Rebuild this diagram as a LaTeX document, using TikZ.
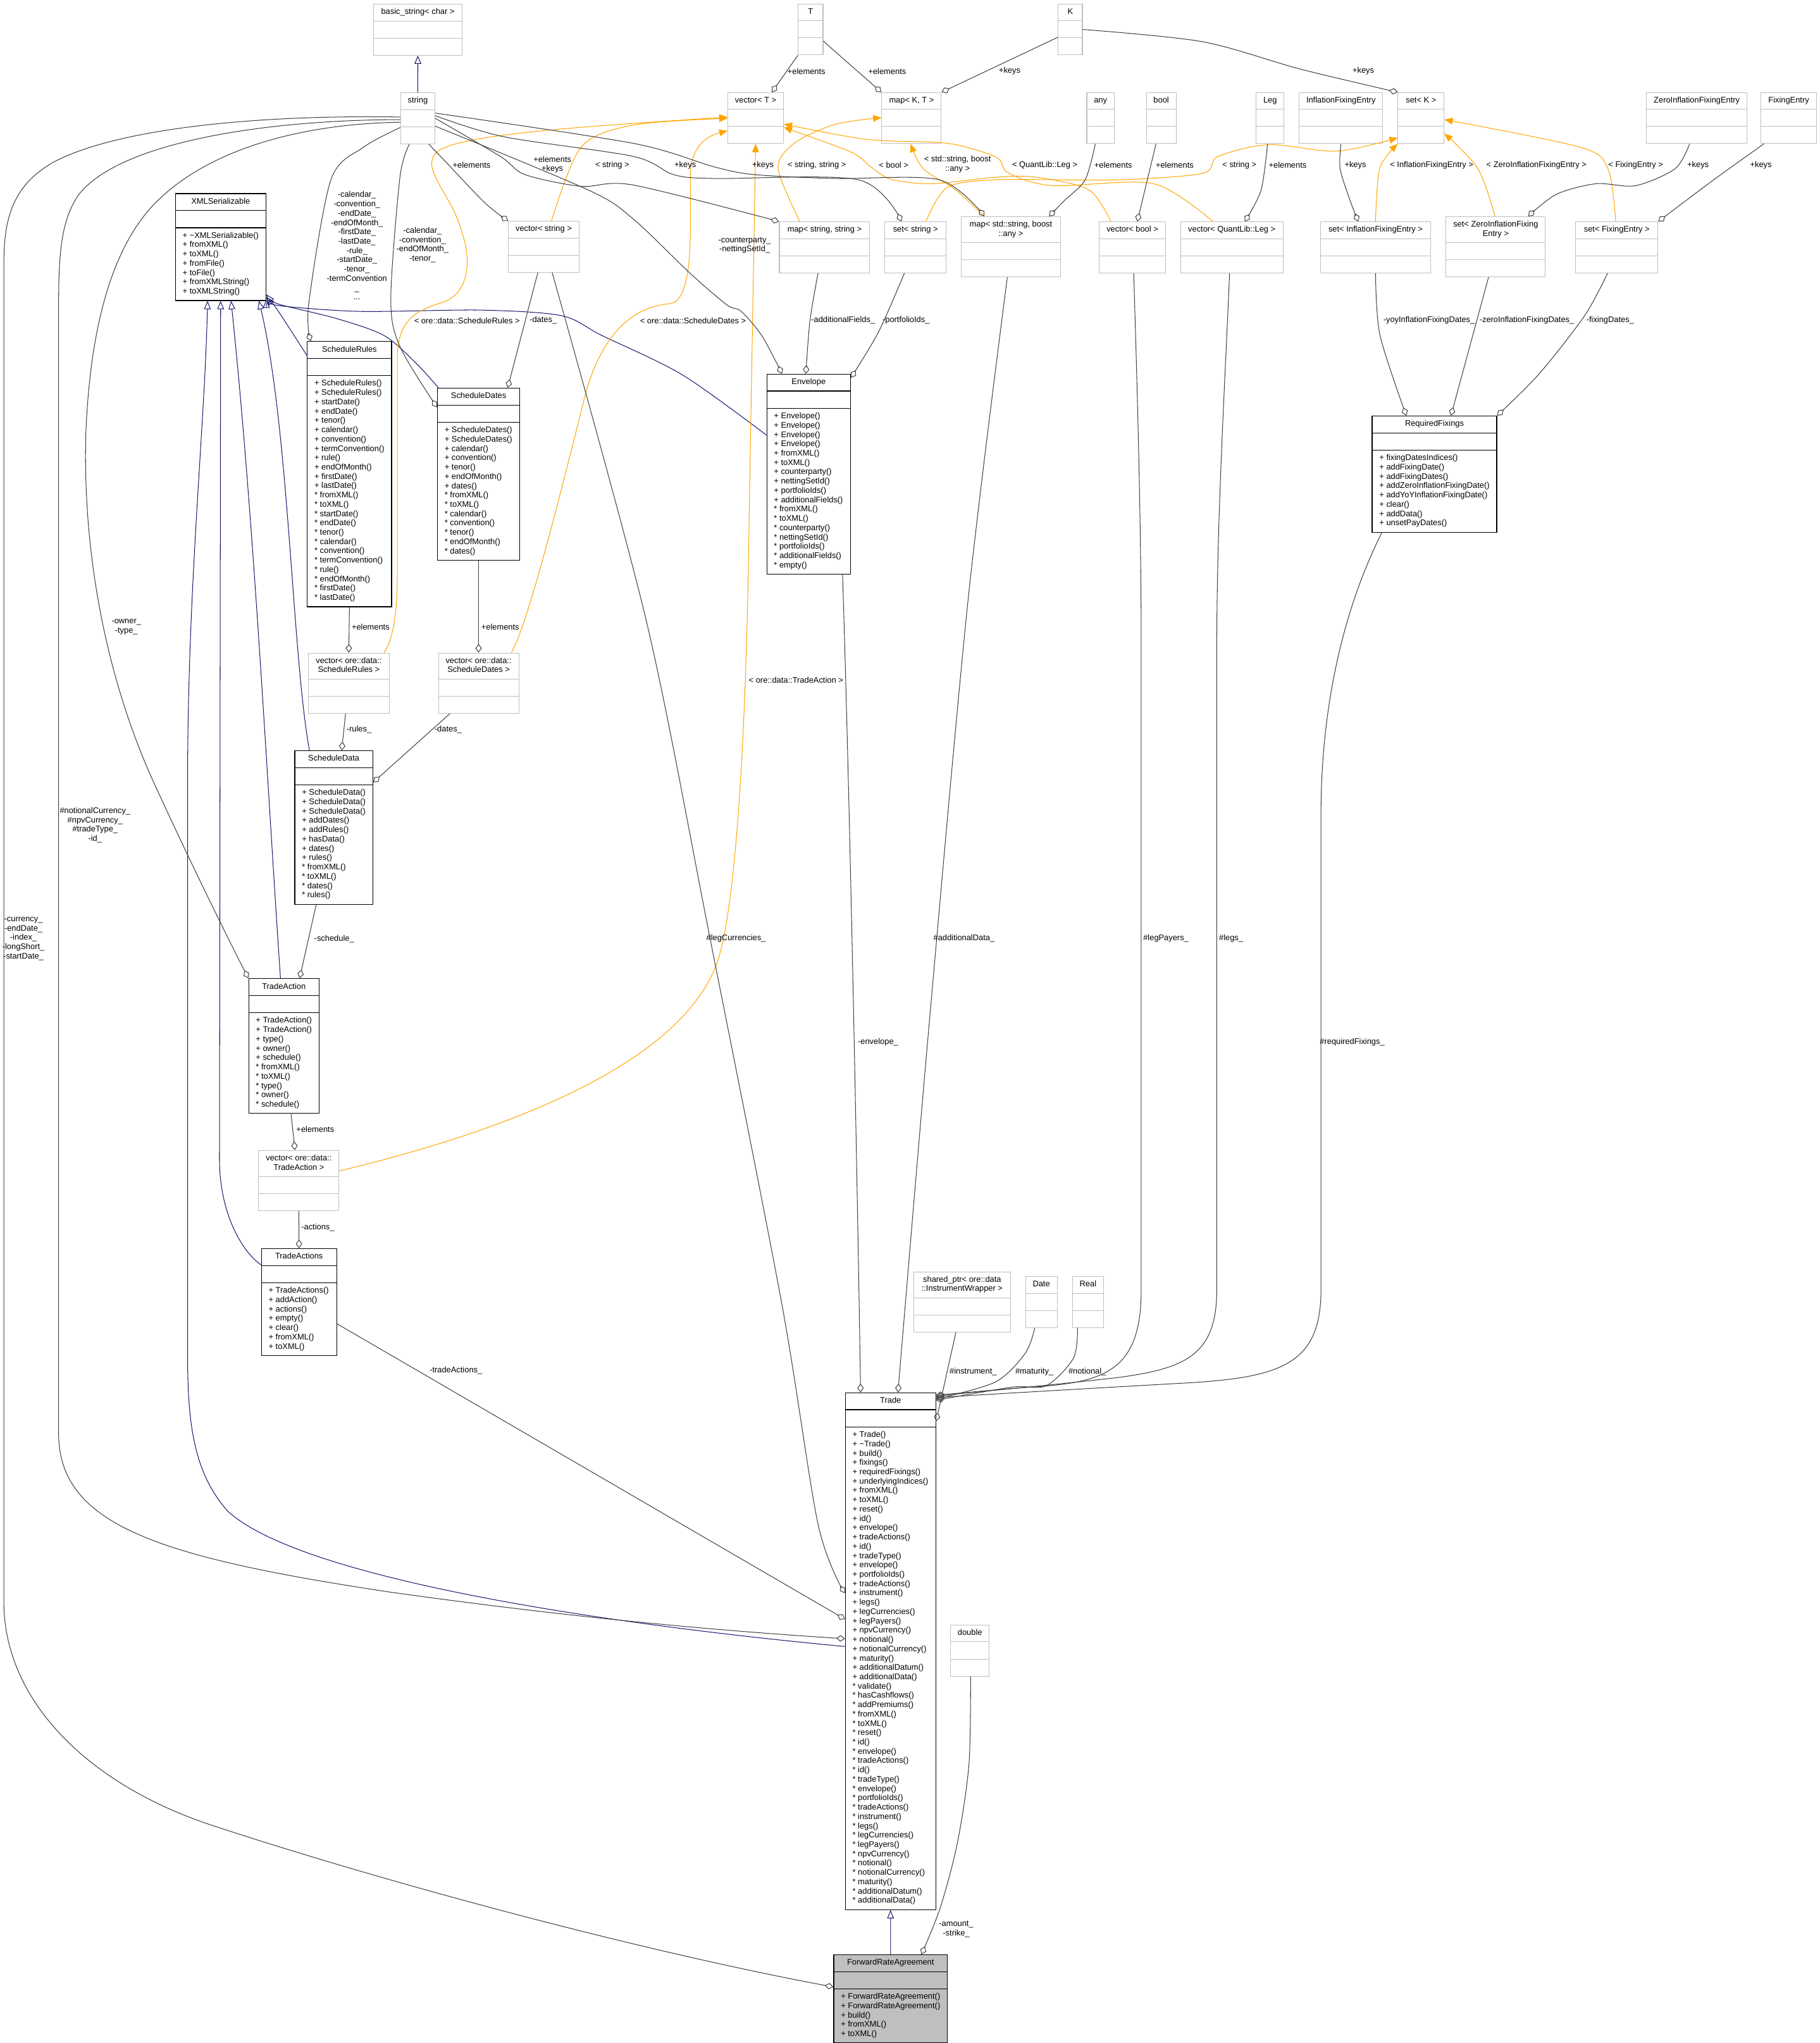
\documentclass[tikz,border=0pt]{standalone}
\usepackage{fontspec}
\setmainfont{Liberation Sans}
\usetikzlibrary{shapes.multipart,arrows.meta}

\definecolor{aggc}{HTML}{404040}
\definecolor{inhc}{HTML}{191970}
\definecolor{tplc}{HTML}{FFA500}
\definecolor{tmplgray}{HTML}{BFBFBF}

\newcommand\dxfont{\fontsize{6.25}{7.15}\selectfont}
\newcommand\mlist[1]{\begin{tabular}{@{}l@{}}#1\end{tabular}}
\newcommand\tlist[1]{\begin{tabular}{@{}c@{}}#1\end{tabular}}

\tikzset{
  cls/.style={rectangle split, rectangle split parts=3, draw=black, fill=white,
    line width=0.6pt, anchor=north west, font=\dxfont, inner xsep=5.5pt, inner ysep=2.6pt,
    rectangle split part align={center,left,left},
    rectangle split empty part height=5pt, rectangle split empty part depth=2.15pt,
    rectangle split empty part width=0pt},
  tmpl/.style={cls, draw=tmplgray, line width=0.5pt},
  lbl/.style={font=\dxfont, inner sep=0pt, align=center},
  agg/.style={draw=aggc, line width=0.5pt, -{Diamond[open, length=6.7pt, width=4.9pt]}},
  inh/.style={draw=inhc, line width=0.5pt, -{Triangle[open, length=6.4pt, width=5.2pt]}},
  tpl/.style={draw=tplc, line width=0.5pt, -{Triangle[length=6.4pt, width=5.2pt]}},
}

\begin{document}
\begin{tikzpicture}[x=1pt, y=-1pt]
    \useasboundingbox (0,0) rectangle (1397,1568);

    % Template and library types
    \node[tmpl, minimum width=68.4pt] (basic) at (286.3,3) {\strut basic\_string< char >\nodepart{two}\nodepart{three}};
    \node[tmpl, minimum width=26.3pt] (str) at (307.3,71) {\strut string\nodepart{two}\nodepart{three}};
    \node[tmpl, minimum width=19pt] (tT) at (612.5,2.8) {\strut T\nodepart{two}\nodepart{three}};
    \node[tmpl, minimum width=18.6pt] (kK) at (812,2.8) {\strut K\nodepart{two}\nodepart{three}};
    \node[tmpl, minimum width=42.5pt] (vecT) at (558.5,70.8) {\strut vector< T >\nodepart{two}\nodepart{three}};
    \node[tmpl, minimum width=45.7pt] (mapKT) at (676.6,70.8) {\strut map< K, T >\nodepart{two}\nodepart{three}};
    \node[tmpl, minimum width=20.7pt] (anyT) at (834,70.8) {\strut any\nodepart{two}\nodepart{three}};
    \node[tmpl, minimum width=22.8pt] (boolT) at (879.7,70.8) {\strut bool\nodepart{two}\nodepart{three}};
    \node[tmpl, minimum width=21pt] (legT) at (964,70.8) {\strut Leg\nodepart{two}\nodepart{three}};
    \node[tmpl, minimum width=64pt] (ifeT) at (997,70.8) {\strut InflationFixingEntry\nodepart{two}\nodepart{three}};
    \node[tmpl, minimum width=35.3pt] (setK) at (1072.9,70.8) {\strut set< K >\nodepart{two}\nodepart{three}};
    \node[tmpl, minimum width=76.1pt] (zifeT) at (1263.7,70.8) {\strut ZeroInflationFixingEntry\nodepart{two}\nodepart{three}};
    \node[tmpl, minimum width=42.4pt] (feT) at (1351.6,70.8) {\strut FixingEntry\nodepart{two}\nodepart{three}};

    \node[tmpl, minimum width=54.2pt] (vecStr) at (390,169.6) {\strut vector< string >\nodepart{two}\nodepart{three}};
    \node[tmpl, minimum width=69.4pt] (mapSS) at (598,170) {\strut map< string, string >\nodepart{two}\nodepart{three}};
    \node[tmpl, minimum width=47pt] (setStr) at (679,170) {\strut set< string >\nodepart{two}\nodepart{three}};
    \node[tmpl, minimum width=76.2pt] (mapAny) at (737.6,166) {\tlist{map< std::string, boost\\::any >}\nodepart{two}\nodepart{three}};
    \node[tmpl, minimum width=50.3pt] (vecBool) at (843.7,170) {\strut vector< bool >\nodepart{two}\nodepart{three}};
    \node[tmpl, minimum width=78.6pt] (vecLeg) at (906,170) {\strut vector< QuantLib::Leg >\nodepart{two}\nodepart{three}};
    \node[tmpl, minimum width=84.7pt] (setIFE) at (1013.3,170) {\strut set< InflationFixingEntry >\nodepart{two}\nodepart{three}};
    \node[tmpl, minimum width=75.5pt] (setZIFE) at (1109.8,166) {\tlist{set< ZeroInflationFixing\\Entry >}\nodepart{two}\nodepart{three}};
    \node[tmpl, minimum width=63.2pt] (setFE) at (1209.2,170) {\strut set< FixingEntry >\nodepart{two}\nodepart{three}};

    \node[tmpl, minimum width=61.8pt] (vecSR) at (236.6,500.9) {\tlist{vector< ore::data::\\ScheduleRules >}\nodepart{two}\nodepart{three}};
    \node[tmpl, minimum width=61.7pt] (vecSD) at (336.3,500.9) {\tlist{vector< ore::data::\\ScheduleDates >}\nodepart{two}\nodepart{three}};
    \node[tmpl, minimum width=61.7pt] (vecTA) at (198.3,882.7) {\tlist{vector< ore::data::\\TradeAction >}\nodepart{two}\nodepart{three}};
    \node[tmpl, minimum width=74pt] (shPtr) at (701.3,975.8) {\tlist{shared\_ptr< ore::data\\::InstrumentWrapper >}\nodepart{two}\nodepart{three}};
    \node[tmpl, minimum width=24.2pt] (dateT) at (787,979.5) {\strut Date\nodepart{two}\nodepart{three}};
    \node[tmpl, minimum width=23.5pt] (realT) at (823,979.5) {\strut Real\nodepart{two}\nodepart{three}};
    \node[tmpl, minimum width=29.5pt] (dbl) at (729.4,1247) {\strut double\nodepart{two}\nodepart{three}};

    % Classes
    \node[cls, minimum width=69.1pt] (xmls) at (134.4,148.3) {\strut XMLSerializable\nodepart{two}\nodepart{three}
        \mlist{+ \textasciitilde XMLSerializable()\\+ fromXML()\\+ toXML()\\+ fromFile()\\+ toFile()\\+ fromXMLString()\\+ toXMLString()}};
    \node[cls, minimum width=63.3pt] (schedRules) at (235.6,261.8) {\strut ScheduleRules\nodepart{two}\nodepart{three}
        \mlist{+ ScheduleRules()\\+ ScheduleRules()\\+ startDate()\\+ endDate()\\+ tenor()\\+ calendar()\\+ convention()\\+ termConvention()\\+ rule()\\+ endOfMonth()\\+ firstDate()\\+ lastDate()\\{*} fromXML()\\{*} toXML()\\{*} startDate()\\{*} endDate()\\{*} tenor()\\{*} calendar()\\{*} convention()\\{*} termConvention()\\{*} rule()\\{*} endOfMonth()\\{*} firstDate()\\{*} lastDate()}};
    \node[cls, minimum width=63.2pt] (schedDates) at (335.5,297.6) {\strut ScheduleDates\nodepart{two}\nodepart{three}
        \mlist{+ ScheduleDates()\\+ ScheduleDates()\\+ calendar()\\+ convention()\\+ tenor()\\+ endOfMonth()\\+ dates()\\{*} fromXML()\\{*} toXML()\\{*} calendar()\\{*} convention()\\{*} tenor()\\{*} endOfMonth()\\{*} dates()}};
    \node[cls, minimum width=64.3pt] (envelope) at (588.3,286.9) {\strut Envelope\nodepart{two}\nodepart{three}
        \mlist{+ Envelope()\\+ Envelope()\\+ Envelope()\\+ Envelope()\\+ fromXML()\\+ toXML()\\+ counterparty()\\+ nettingSetId()\\+ portfolioIds()\\+ additionalFields()\\{*} fromXML()\\{*} toXML()\\{*} counterparty()\\{*} nettingSetId()\\{*} portfolioIds()\\{*} additionalFields()\\{*} empty()}};
    \node[cls, minimum width=94.6pt] (reqFix) at (1053,319) {\strut RequiredFixings\nodepart{two}\nodepart{three}
        \mlist{+ fixingDatesIndices()\\+ addFixingDate()\\+ addFixingDates()\\+ addZeroInflationFixingDate()\\+ addYoYInflationFixingDate()\\+ clear()\\+ addData()\\+ unsetPayDates()}};
    \node[cls, minimum width=59.8pt] (schedData) at (226,575.9) {\strut ScheduleData\nodepart{two}\nodepart{three}
        \mlist{+ ScheduleData()\\+ ScheduleData()\\+ ScheduleData()\\+ addDates()\\+ addRules()\\+ hasData()\\+ dates()\\+ rules()\\{*} fromXML()\\{*} toXML()\\{*} dates()\\{*} rules()}};
    \node[cls, minimum width=53.9pt] (tradeAction) at (190.6,750.8) {\strut TradeAction\nodepart{two}\nodepart{three}
        \mlist{+ TradeAction()\\+ TradeAction()\\+ type()\\+ owner()\\+ schedule()\\{*} fromXML()\\{*} toXML()\\{*} type()\\{*} owner()\\{*} schedule()}};
    \node[cls, minimum width=57.7pt] (tradeActions) at (200.4,958) {\strut TradeActions\nodepart{two}\nodepart{three}
        \mlist{+ TradeActions()\\+ addAction()\\+ actions()\\+ empty()\\+ clear()\\+ fromXML()\\+ toXML()}};
    \node[cls, minimum width=69.4pt] (trade) at (648.6,1068.7) {\strut Trade\nodepart{two}\nodepart{three}
        \mlist{+ Trade()\\+ \textasciitilde Trade()\\+ build()\\+ fixings()\\+ requiredFixings()\\+ underlyingIndices()\\+ fromXML()\\+ toXML()\\+ reset()\\+ id()\\+ envelope()\\+ tradeActions()\\+ id()\\+ tradeType()\\+ envelope()\\+ portfolioIds()\\+ tradeActions()\\+ instrument()\\+ legs()\\+ legCurrencies()\\+ legPayers()\\+ npvCurrency()\\+ notional()\\+ notionalCurrency()\\+ maturity()\\+ additionalDatum()\\+ additionalData()\\{*} validate()\\{*} hasCashflows()\\{*} addPremiums()\\{*} fromXML()\\{*} toXML()\\{*} reset()\\{*} id()\\{*} envelope()\\{*} tradeActions()\\{*} id()\\{*} tradeType()\\{*} envelope()\\{*} portfolioIds()\\{*} tradeActions()\\{*} instrument()\\{*} legs()\\{*} legCurrencies()\\{*} legPayers()\\{*} npvCurrency()\\{*} notional()\\{*} notionalCurrency()\\{*} maturity()\\{*} additionalDatum()\\{*} additionalData()}};
    \node[cls, fill=tmplgray, minimum width=86.8pt] (fra) at (639.7,1500) {\strut ForwardRateAgreement\nodepart{two}\nodepart{three}
        \mlist{+ ForwardRateAgreement()\\+ ForwardRateAgreement()\\+ build()\\+ fromXML()\\+ toXML()}};

    % Inheritance
    \draw[inh] (str.north) -- (basic.south);
    \draw[inh] (fra.north) -- (trade.south);
    \draw[inh] plot[smooth] coordinates {([yshift=-11pt]schedRules.north west) (214.4,240) ([yshift=5pt]xmls.south east)};
    \draw[inh] plot[smooth] coordinates {([xshift=1pt]schedDates.north west) (319.6,279) (294.8,257.5) (257.7,244.3) (214.4,233.6) ([yshift=3pt]xmls.south east)};
    \draw[inh] plot[smooth] coordinates {([yshift=-47pt]envelope.north west) (524,287.8) (462,257.5) (431,242.3) (369,238) (276.3,239) (214.4,234.6) ([yshift=1pt]xmls.south east)};
    \draw[inh] ([xshift=11.5pt]schedData.north west) .. controls (224,500) and (222,330) .. ([xshift=-5.5pt]xmls.south east);
    \draw[inh] ([xshift=24.7pt]tradeAction.north west) .. controls (205,600) and (195,400) .. ([xshift=-27pt]xmls.south east);
    \draw[inh] ([yshift=-12.8pt]tradeActions.north west) .. controls (185,960) and (168.5,930) .. (168.5,890)
        -- ([xshift=-35pt]xmls.south east);
    \draw[inh] ([yshift=-195pt]trade.north west) .. controls (450,1245) and (230,1210) .. (175,1160)
        .. controls (148,1130) and (144,1090) .. (144,1040) -- (144,600)
        .. controls (144,450) and (157,330) .. ([xshift=-45pt]xmls.south east);

    % Template instances
    \draw[tpl] plot[smooth] coordinates {([xshift=6pt]vecStr.north) (446,113) (486,96) ([yshift=-20pt]vecT.north west)};
    \draw[tpl] ([xshift=-4pt]vecSR.north east) .. controls (302,490) and (305,470) .. (305,440) -- (305,275)
        .. controls (305,245) and (320,238) .. (340,232) .. controls (360,225) and (362,200) .. (355,180)
        .. controls (348,150) and (322,130) .. (335,117) .. controls (350,102) and (470,96) .. ([yshift=-19pt]vecT.north west);
    \draw[tpl] ([xshift=-6pt]vecSD.north east) .. controls (405,480) and (430,380) .. (450,300)
        .. controls (465,250) and (490,235) .. (515,233) .. controls (528,230) and (530,200) .. (530,170)
        -- (530,135) .. controls (530,115) and (540,105) .. ([yshift=-29.6pt]vecT.north west);
    \draw[tpl] ([yshift=-16pt]vecTA.north east) .. controls (380,870) and (520,820) .. (550,740)
        .. controls (565,700) and (573,560) .. (575,400) -- (vecT.south);
    \draw[tpl] plot[smooth] coordinates {([xshift=9pt]vecBool.north west) (835.8,145.7) (795.5,136) (764.6,136) (715,141) (684,137.6) (668.4,128) (653,116.6) ([yshift=-27pt]vecT.north east)};
    \draw[tpl] plot[smooth] coordinates {([xshift=25pt]vecLeg.north west) (885.4,141) (808,142.5) (774,132.8) (764.6,120.6) (727.4,110) (665.5,107) ([yshift=-24.5pt]vecT.north east)};
    \draw[tpl] plot[smooth] coordinates {([xshift=16pt]mapSS.north west) (597.3,129.5) (609.6,110) (640.7,95.5) ([yshift=-19.5pt]mapKT.north west)};
    \draw[tpl] plot[smooth] coordinates {([xshift=-20.5pt]mapAny.north) (733.5,145.7) (708.7,129.5) ([xshift=-0.7pt]mapKT.south)};
    \draw[tpl] plot[smooth] coordinates {([xshift=8pt]setStr.north) (727,144) (765,138) (858,138) (923,133) (935,120) (974,111) (1026,116) ([yshift=-35pt]setK.north west)};
    \draw[tpl] plot[smooth] coordinates {(setIFE.north) (1059,129.5) (setK.south west)};
    \draw[tpl] plot[smooth] coordinates {([xshift=-0.5pt]setZIFE.north) (1134.5,129.5) ([yshift=8pt]setK.south east)};
    \draw[tpl] plot[smooth] coordinates {([xshift=-0.8pt]setFE.north) (1234.3,129.5) (1213,113) ([yshift=-21pt]setK.north east)};

    % Members
    \draw[agg] (tT.south west) -- ([xshift=34pt]vecT.north west);
    \draw[agg] ([yshift=-9pt]tT.east) -- (mapKT.north west);
    \draw[agg] ([yshift=-6pt]kK.west) -- (mapKT.north east);
    \draw[agg] plot[smooth] coordinates {(kK.east) (923,32) (998,53) (setK.north west)};
    \draw[agg] plot[smooth] coordinates {([xshift=-5pt]str.south east) (341,123) (372,155.5) (vecStr.north west)};
    \draw[agg] plot[smooth] coordinates {(str.east) (384,120) (403,134) (446,143) (486,142) (mapSS.north west)};
    \draw[agg] plot[smooth] coordinates {([yshift=2pt]str.east) (387,105) (486,120) (517,134) (548,137) (659,138) ([xshift=13pt]setStr.north west)};
    \draw[agg] plot[smooth] coordinates {([yshift=4pt]str.east) (486,110) (548,128) (579,134) (641,137) (721,138) ([xshift=18pt]mapAny.north west)};
    \draw[agg] plot[smooth] coordinates {([yshift=-6pt]str.east) (452,146) (486,168) (530,210) (558,234) (569,239) (585,258) ([xshift=12pt]envelope.north west)};
    \draw[agg] plot[smooth] coordinates {([xshift=-4pt]anyT.south) (833,138) (817,154) ([xshift=-9pt]mapAny.north east)};
    \draw[agg] ([xshift=-4pt]boolT.south) -- ([xshift=29.3pt]vecBool.north west);
    \draw[agg] plot[smooth] coordinates {([xshift=-2pt]legT.south) (968,146) ([xshift=49.5pt]vecLeg.north west)};
    \draw[agg] plot[smooth] coordinates {(ifeT.south) (1028.7,129.5) (1036.3,153.8) ([xshift=29.3pt]setIFE.north west)};
    \draw[agg] plot[smooth] coordinates {([xshift=33.3pt]zifeT.south west) (1285.8,129.5) (1255.5,142.5) (1225.2,141) (1195,149) ([xshift=63.2pt]setZIFE.north west)};
    \draw[agg] plot[smooth] coordinates {([xshift=2.4pt]feT.south west) (1316,137.6) (setFE.north east)};

    \draw[agg] plot[smooth] coordinates {([yshift=-7pt]str.west) (279,113) (254,138) (237,233) ([xshift=3pt]schedRules.north west)};
    \draw[agg] plot[smooth] coordinates {([xshift=7pt]str.south west) (307,136) (300,229) (307,266) ([yshift=-15pt]schedDates.north west)};
    \draw[agg] ([yshift=-3pt]str.west) .. controls (230,95) and (160,115) .. (120,155)
        .. controls (90,185) and (70,240) .. (66,330) .. controls (63,420) and (80,520) .. (121,607)
        .. controls (150,670) and (175,720) .. (tradeAction.north west);
    \draw[agg] ([yshift=-1pt]str.west) .. controls (200,92) and (90,110) .. (60,150)
        .. controls (48,168) and (45,190) .. (45,233) -- (45,1100)
        .. controls (45,1170) and (120,1195) .. (300,1222)
        .. controls (450,1243) and (560,1252) .. ([yshift=-189pt]trade.north west);
    \draw[agg] ([yshift=1pt]str.west) .. controls (200,88) and (90,98) .. (40,125)
        .. controls (15,140) and (3,160) .. (3,200) -- (3,1230)
        .. controls (3,1300) and (60,1365) .. (157,1399)
        .. controls (280,1440) and (480,1495) .. ([yshift=-25pt]fra.north west);

    \draw[agg] ([xshift=-4.5pt]vecStr.south) -- ([xshift=54.2pt]schedDates.north west);
    \draw[agg] plot[smooth] coordinates {([xshift=6.5pt]vecStr.south) (496,476) (545,720) (600,1000) (628,1170) ([yshift=-154pt]trade.north west)};
    \draw[agg] plot[smooth] coordinates {([xshift=-5pt]mapSS.south) (621.7,246.4) ([xshift=30.3pt]envelope.north west)};
    \draw[agg] plot[smooth] coordinates {([xshift=-8.5pt]setStr.south) (674.5,254.5) ([yshift=-3pt]envelope.north east)};
    \draw[agg] ([xshift=26pt]envelope.south) .. controls (652,600) and (658,900) .. ([xshift=12pt]trade.north west);
    \draw[agg] plot[smooth] coordinates {([xshift=-2.7pt]mapAny.south) (743,461.5) (712,800) ([xshift=40.7pt]trade.north west)};
    \draw[agg] ([xshift=1pt]vecBool.south) .. controls (873,300) and (876,400) .. (876,500) -- (876,990)
        .. controls (876,1050) and (850,1060) .. (800,1064) .. controls (770,1066) and (740,1069) .. ([yshift=-2pt]trade.north east);
    \draw[agg] ([xshift=-1.7pt]vecLeg.south) .. controls (940,300) and (934,400) .. (934,500) -- (934,990)
        .. controls (934,1040) and (910,1050) .. (860,1057) .. controls (800,1064) and (750,1068) .. ([yshift=-3pt]trade.north east);
    \draw[agg] ([xshift=7.7pt]reqFix.south west) .. controls (1040,450) and (1015,520) .. (1014,620) -- (1014,990)
        .. controls (1014,1050) and (980,1058) .. (900,1062) .. controls (830,1066) and (760,1070) .. ([yshift=-4pt]trade.north east);
    \draw[agg] plot[smooth] coordinates {([xshift=-5pt]dateT.south) (787,1038.6) (764,1060.7) ([yshift=-5pt]trade.north east)};
    \draw[agg] plot[smooth] coordinates {([xshift=-8pt]realT.south) (824,1042.4) (803,1063.6) (777,1064.6) ([yshift=-6pt]trade.north east)};
    \draw[agg] ([xshift=-4.8pt]shPtr.south) -- ([yshift=-22pt]trade.north east);

    \draw[agg] plot[smooth] coordinates {(setIFE.south) (1059.3,257.3) ([xshift=26.5pt]reqFix.north west)};
    \draw[agg] ([xshift=-5.5pt]setZIFE.south) -- ([xshift=60.8pt]reqFix.north west);
    \draw[agg] plot[smooth] coordinates {([xshift=-7pt]setFE.south) (1216.3,242.4) (1181.4,287) (reqFix.north east)};

    \draw[agg] (schedRules.south) -- (vecSR.north);
    \draw[agg] (schedDates.south) -- (vecSD.north);
    \draw[agg] ([xshift=-2.5pt]vecSR.south) -- ([xshift=36.3pt]schedData.north west);
    \draw[agg] ([xshift=-22pt]vecSD.south) -- ([yshift=-24.6pt]schedData.north east);
    \draw[agg] ([xshift=-13.5pt]schedData.south) -- ([xshift=39.4pt]tradeAction.north west);
    \draw[agg] ([xshift=5.5pt]tradeAction.south) -- ([xshift=-3pt]vecTA.north);
    \draw[agg] (vecTA.south) -- (tradeActions.north);
    \draw[agg] ([yshift=-58pt]tradeActions.north east) -- ([yshift=-174pt]trade.north west);
    \draw[agg] plot[smooth] coordinates {([xshift=0.5pt]dbl.south) (743.8,1353.8) (735,1414) (721.7,1464.3) ([xshift=67.6pt]fra.north west)};

    % Labels
    \node[lbl] (l1) at (619,54.7) {+elements};
    \node[lbl] (l2) at (681,54.7) {+elements};
    \node[lbl] (l3) at (775,54.7) {+keys};
    \node[lbl] (l4) at (1046.5,54.7) {+keys};
    \node[lbl] (l5) at (362,126.5) {+elements};
    \node[lbl] (l6) at (424,126.4) {+elements\\+keys};
    \node[lbl] (l7) at (470,126.8) {< string >};
    \node[lbl] (l8) at (526,126.8) {+keys};
    \node[lbl] (l9) at (585.6,126.8) {+keys};
    \node[lbl] (l10) at (627,126.8) {< string, string >};
    \node[lbl] (l11) at (686,126.8) {< bool >};
    \node[lbl] (l12) at (735,126.2) {< std::string, boost\\::any >};
    \node[lbl] (l13) at (802,126.8) {< QuantLib::Leg >};
    \node[lbl] (l14) at (854.5,126.8) {+elements};
    \node[lbl] (l15) at (901.7,126.8) {+elements};
    \node[lbl] (l16) at (951.4,126.8) {< string >};
    \node[lbl] (l17) at (988.4,126.8) {+elements};
    \node[lbl] (l18) at (1040.4,126.8) {+keys};
    \node[lbl] (l19) at (1099,126.8) {< InflationFixingEntry >};
    \node[lbl] (l20) at (1179.4,126.8) {< ZeroInflationFixingEntry >};
    \node[lbl] (l21) at (1255.6,126.8) {< FixingEntry >};
    \node[lbl] (l22) at (1303.4,126.8) {+keys};
    \node[lbl] (l23) at (1351.7,126.8) {+keys};
    \node[lbl] (l24) at (274,188.5) {-calendar\_\\-convention\_\\-endDate\_\\-endOfMonth\_\\-firstDate\_\\-lastDate\_\\-rule\_\\-startDate\_\\-tenor\_\\-termConvention\\\_\\...};
    \node[lbl] (l25) at (324.3,188) {-calendar\_\\-convention\_\\-endOfMonth\_\\-tenor\_};
    \node[lbl] (l26) at (571.6,188.3) {-counterparty\_\\-nettingSetId\_};
    \node[lbl] (l27) at (358.5,246) {< ore::data::ScheduleRules >};
    \node[lbl] (l28) at (417,246) {-dates\_};
    \node[lbl] (l29) at (532,246) {< ore::data::ScheduleDates >};
    \node[lbl] (l30) at (647.2,246) {-additionalFields\_};
    \node[lbl] (l31) at (695.5,246) {-portfolioIds\_};
    \node[lbl] (l32) at (1097,246) {-yoyInflationFixingDates\_};
    \node[lbl] (l33) at (1172,246) {-zeroInflationFixingDates\_};
    \node[lbl] (l34) at (1236,246) {-fixingDates\_};
    \node[lbl] (l35) at (97,481) {-owner\_\\-type\_};
    \node[lbl] (l36) at (73,633.3) {\#notionalCurrency\_\\\#npvCurrency\_\\\#tradeType\_\\-id\_};
    \node[lbl] (l37) at (18,720.5) {-currency\_\\-endDate\_\\-index\_\\-longShort\_\\-startDate\_};
    \node[lbl] (l38) at (284.5,481) {+elements};
    \node[lbl] (l39) at (384,481) {+elements};
    \node[lbl] (l40) at (611,522) {< ore::data::TradeAction >};
    \node[lbl] (l41) at (275.6,560) {-rules\_};
    \node[lbl] (l42) at (344,560) {-dates\_};
    \node[lbl] (l43) at (256.5,720.6) {-schedule\_};
    \node[lbl] (l44) at (565,720) {\#legCurrencies\_};
    \node[lbl] (l45) at (740,720) {\#additionalData\_};
    \node[lbl] (l46) at (895,720) {\#legPayers\_};
    \node[lbl] (l47) at (945,720) {\#legs\_};
    \node[lbl] (l48) at (674,800) {-envelope\_};
    \node[lbl] (l49) at (1038,800) {\#requiredFixings\_};
    \node[lbl] (l50) at (242,866.6) {+elements};
    \node[lbl] (l51) at (244,942) {-actions\_};
    \node[lbl] (l52) at (350,1052) {-tradeActions\_};
    \node[lbl] (l53) at (747,1052.8) {\#instrument\_};
    \node[lbl] (l54) at (794,1052.8) {\#maturity\_};
    \node[lbl] (l55) at (834.6,1052.8) {\#notional\_};
    \node[lbl] (l56) at (734,1480.7) {-amount\_\\-strike\_};
\end{tikzpicture}
\end{document}
